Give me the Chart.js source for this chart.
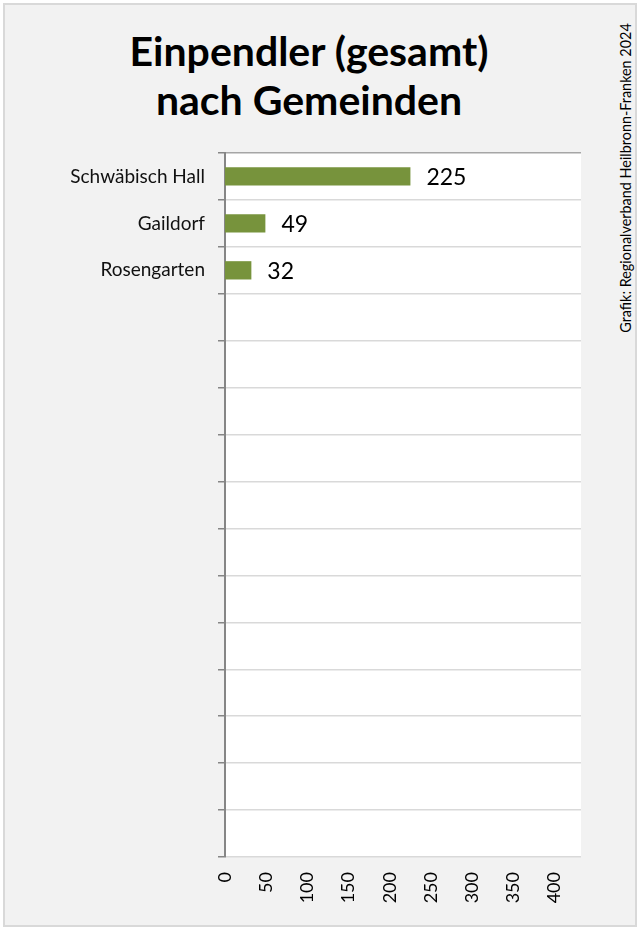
<!DOCTYPE html>
<html lang="de">
<head>
  <meta charset="UTF-8" />
  <title>Einpendler (gesamt) nach Gemeinden</title>
  <script src="https://cdn.jsdelivr.net/npm/chart.js"></script>
  <style>
    html, body {
      margin: 0;
      padding: 0;
      background: #ffffff;
      font-family: Lato, 'Open Sans', sans-serif;
    }
    .frame {
      position: absolute;
      left: 3px;
      top: 3px;
      width: 634px;
      height: 924px;
      box-sizing: border-box;
      border: 2px solid #d9d9d9;
      background: #f2f2f2;
    }
    .title {
      position: absolute;
      left: 0;
      top: 26px;
      width: 618px;
      text-align: center;
      font-weight: bold;
      font-size: 41px;
      line-height: 49px;
      color: #000;
    }
    .source {
      position: absolute;
      left: 625px;
      top: 178px;
      transform: translate(-50%, -50%) rotate(-90deg);
      white-space: nowrap;
      font-size: 14.4px;
      color: #000;
    }
    .chart-box {
      position: absolute;
      left: 0;
      top: 0;
      width: 640px;
      height: 930px;
    }
  </style>
</head>
<body>
  <div class="frame"></div>
  <div class="title">Einpendler (gesamt)<br>nach Gemeinden</div>
  <div class="source">Grafik: Regionalverband Heilbronn-Franken 2024</div>
  <div class="chart-box"><canvas id="chart"></canvas></div>

  <script>
    // Gemeinden (15 Zeilen, nur drei belegt)
    const gemeinden = ['Schwäbisch Hall', 'Gaildorf', 'Rosengarten',
      '', '', '', '', '', '', '', '', '', '', '', ''];
    const einpendler = [225, 49, 32,
      null, null, null, null, null, null, null, null, null, null, null, null];
    const tickStep = 50;
    const tickMax = 400;
    const axisMax = 432;

    // white plot area
    const plotBg = {
      id: 'plotBg',
      beforeDraw(chart) {
        const a = chart.chartArea;
        const c = chart.ctx;
        c.save();
        c.fillStyle = '#ffffff';
        c.fillRect(a.left, a.top, a.right - a.left, a.bottom - a.top);
        c.restore();
      }
    };

    // value labels right of the bars
    const valueLabels = {
      id: 'valueLabels',
      afterDatasetsDraw(chart) {
        const c = chart.ctx;
        const meta = chart.getDatasetMeta(0);
        c.save();
        c.font = '23px Lato, sans-serif';
        c.fillStyle = '#000';
        c.textBaseline = 'middle';
        c.textAlign = 'left';
        meta.data.forEach((bar, i) => {
          const v = einpendler[i];
          if (v == null) return;
          c.fillText(String(v), bar.x + 16, bar.y + 1);
        });
        c.restore();
      }
    };

    new Chart(document.getElementById('chart'), {
      type: 'bar',
      data: {
        labels: gemeinden,
        datasets: [{
          data: einpendler,
          backgroundColor: '#77933c',
          borderWidth: 0,
          barPercentage: 0.39,
          categoryPercentage: 1
        }]
      },
      options: {
        indexAxis: 'y',
        responsive: true,
        maintainAspectRatio: false,
        animation: false,
        layout: { padding: { left: 0, top: 153, right: 59, bottom: 0 } },
        plugins: {
          legend: { display: false },
          tooltip: { enabled: false }
        },
        scales: {
          y: {
            afterFit(scale) { scale.width = 225; },
            grid: {
              offset: true,
              color: ctx => ctx.index === 0 ? '#a6a6a6' : '#d9d9d9',
              tickColor: '#868686',
              tickLength: 7,
              lineWidth: 1.5
            },
            border: { display: true, color: '#868686', width: 2 },
            ticks: {
              autoSkip: false,
              padding: 13,
              color: '#111',
              font: { family: 'Lato', size: 19 }
            }
          },
          x: {
            min: 0,
            max: axisMax,
            afterFit(scale) { scale.height = 73; },
            afterBuildTicks(scale) {
              scale.ticks = scale.ticks.filter(t => t.value % tickStep === 0 && t.value <= tickMax);
            },
            grid: { display: false },
            border: { display: false },
            ticks: {
              stepSize: tickStep,
              minRotation: 90,
              maxRotation: 90,
              padding: 7,
              color: '#000',
              font: { family: 'Lato', size: 18 }
            }
          }
        }
      },
      plugins: [plotBg, valueLabels]
    });
  </script>
</body>
</html>
